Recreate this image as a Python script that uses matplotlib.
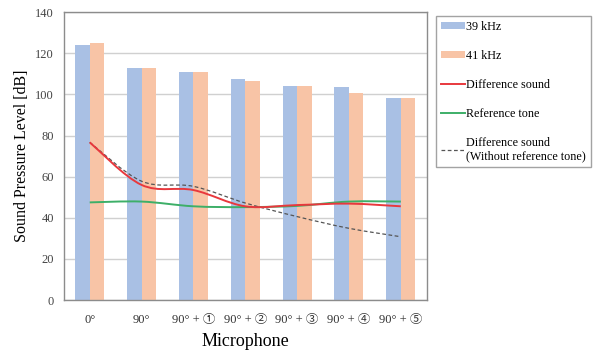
import numpy as np
import matplotlib
matplotlib.use("Agg")
import matplotlib.pyplot as plt
from matplotlib.path import Path
from matplotlib.patches import PathPatch, Patch
from matplotlib.lines import Line2D

# data
categories = ["0°", "90°", "90° + ①", "90° + ②", "90° + ③", "90° + ④", "90° + ⑤"]
khz39 = [123.8, 112.6, 110.8, 107.4, 103.9, 103.5, 98.2]
khz41 = [124.8, 112.9, 110.8, 106.3, 103.9, 100.5, 98.2]
diff_sound = [76.7, 56.0, 53.5, 45.6, 46.2, 46.9, 45.6]
ref_tone = [47.5, 47.9, 45.6, 45.2, 45.8, 47.9, 47.9]
diff_no_ref = [76.7, 57.8, 55.3, 47.2, 40.6, 34.9, 30.8]

plt.rcParams['font.family'] = ['Liberation Serif', 'Noto Sans CJK JP', 'DejaVu Sans']


def smooth_path(xs, ys):
    """Catmull-Rom style smoothed line as a bezier path (like Excel smoothed lines)."""
    pts = np.column_stack([xs, ys]).astype(float)
    n = len(pts)
    verts = [pts[0]]
    codes = [Path.MOVETO]
    for i in range(n - 1):
        p0 = pts[i - 1] if i > 0 else pts[i]
        p1 = pts[i]
        p2 = pts[i + 1]
        p3 = pts[i + 2] if i + 2 < n else pts[i + 1]
        c1 = p1 + (p2 - p0) / 6.0
        c2 = p2 - (p3 - p1) / 6.0
        verts += [c1, c2, p2]
        codes += [Path.CURVE4] * 3
    return Path(verts, codes)


fig = plt.figure(figsize=(5.96, 3.56), dpi=100)
ax = fig.add_axes([0.107, 0.157, 0.609, 0.809])

x = np.arange(len(categories))
w = 0.28
blue = "#A9C0E4"
orange = "#F8C4A6"
ax.bar(x - w / 2, khz39, w, color=blue, zorder=2)
ax.bar(x + w / 2, khz41, w, color=orange, zorder=2)

red = "#E8383D"
green = "#3DAF68"
grey = "#555555"
ax.add_patch(PathPatch(smooth_path(x, ref_tone), fill=False, edgecolor=green, lw=1.4, zorder=3))
ax.add_patch(PathPatch(smooth_path(x, diff_no_ref), fill=False, edgecolor=grey, lw=0.9,
                       linestyle=(0, (3, 2)), zorder=3))
ax.add_patch(PathPatch(smooth_path(x, diff_sound), fill=False, edgecolor=red, lw=1.4, zorder=4))

ax.set_xlim(-0.5, len(categories) - 0.5)
ax.set_ylim(0, 140)
ax.set_yticks(np.arange(0, 141, 20))
ax.set_xticks(x)
ax.set_xticklabels(categories, fontsize=9, color="#333333")
ax.tick_params(axis='y', labelsize=9, colors="#444444", length=0, pad=7)
ax.tick_params(axis='x', length=0, pad=10)
ax.grid(axis='y', color="#D0D0D0", lw=1, zorder=0)
ax.set_axisbelow(True)
for s in ax.spines.values():
    s.set_color("#8C8C8C")
    s.set_linewidth(1.0)

ax.set_ylabel("Sound Pressure Level [dB]", fontsize=11.5)
ax.set_xlabel("Microphone", fontsize=13, labelpad=5)

handles = [
    Patch(facecolor=blue, edgecolor="none"),
    Patch(facecolor=orange, edgecolor="none"),
    Line2D([], [], color=red, lw=1.4),
    Line2D([], [], color=green, lw=1.4),
    Line2D([], [], color=grey, lw=0.9, linestyle=(0, (3, 2))),
]
labels = ["39 kHz", "41 kHz", "Difference sound", "Reference tone",
          "Difference sound\n(Without reference tone)"]
leg = fig.legend(handles, labels, loc="upper left", bbox_to_anchor=(0.731, 0.955),
                 fontsize=8.7, frameon=True, fancybox=False, handlelength=2.0,
                 handleheight=0.6, handletextpad=0.15, labelspacing=1.4,
                 borderpad=0.4, borderaxespad=0)
leg.get_frame().set_edgecolor("#8C8C8C")
leg.get_frame().set_linewidth(1.0)

fig.savefig("out.png", dpi=100)
